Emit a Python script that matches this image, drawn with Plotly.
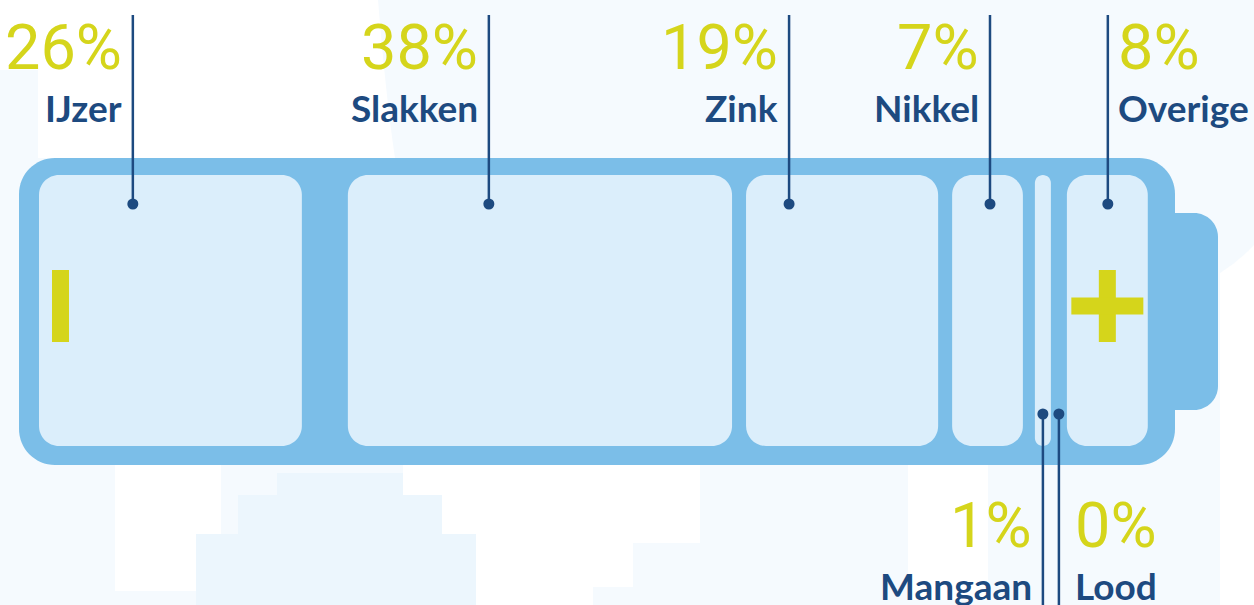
import plotly.graph_objects as go

# ---------------- data ----------------
materials = ["IJzer", "Slakken", "Zink", "Nikkel", "Mangaan", "Lood", "Overige"]
shares = [26, 38, 19, 7, 1, 0, 8]
share_labels = [f"{v}%" for v in shares]
label_side = ["top", "top", "top", "top", "bottom", "bottom", "top"]
cell_group = [0, 1, 2, 3, 4, 4, 5]          # Mangaan & Lood share the thin cell

# ---------------- layout / style constants ----------------
W, H = 1254, 605
PX_PER_PCT = 10.11
CELL_X0 = 39
CELL_GAPS = [46, 14, 14, 12, 16]
THIN_MIN = 16
CELL_Y0, CELL_Y1 = 175, 446
LEADER_FRAC = [0.357, 0.367, 0.224, 0.535, 0.5, 1.5, 0.506]
DOT_Y_TOP, DOT_Y_BOT = 204, 414
LINE_TOP, LINE_BOT = 15, 605
SIGN_CY = 306

C_BG = "#f5fafe"
C_WHITE = "#ffffff"
C_BLOCK = "#ecf6fd"
C_BODY = "#7bbee8"
C_CELL = "#dbeefb"
C_DARK = "#1d4a80"
C_YEL = "#d5d51b"

PCT_FONT = dict(family="Roboto, Liberation Sans Narrow, sans-serif", size=63, color=C_YEL, weight=400)
LBL_FONT = dict(family="Lato, Open Sans, sans-serif", size=37, color=C_DARK, weight="bold")


def rrect(x0, y0, x1, y1, r):
    k = 0.5523 * r
    return (f"M{x0+r},{y0} L{x1-r},{y0} C{x1-r+k},{y0} {x1},{y0+r-k} {x1},{y0+r} "
            f"L{x1},{y1-r} C{x1},{y1-r+k} {x1-r+k},{y1} {x1-r},{y1} "
            f"L{x0+r},{y1} C{x0+r-k},{y1} {x0},{y1-r+k} {x0},{y1-r} "
            f"L{x0},{y0+r} C{x0},{y0+r-k} {x0+r-k},{y0} {x0+r},{y0} Z")


shapes = []


def add_path(path, color, layer="below"):
    shapes.append(dict(type="path", path=path, xref="x", yref="y",
                       fillcolor=color, line=dict(width=0), layer=layer))


# background decoration
add_path("M0,0 L378,0 C383,60 388,110 395,158 L38,158 L38,70 L0,70 Z", C_WHITE)
add_path("M115,465 L221,465 L221,591 L115,591 Z", C_WHITE)
add_path("M403,465 L700,465 L700,543 L633,543 L633,587 L593,587 L593,605 "
         "L476,605 L476,534 L442,534 L442,495 L403,495 Z", C_WHITE)
add_path("M196,605 L196,534 L238,534 L238,495 L277,495 L277,473 L403,473 L403,495 "
         "L442,495 L442,534 L476,534 L476,605 Z", C_BLOCK)
add_path("M908,465 L988,465 L988,600 L908,600 Z", C_WHITE)
add_path("M1220,273 Q1238,262 1254,245 L1254,605 L1220,605 Z", C_WHITE)

# battery body + tab
add_path(rrect(1140, 213, 1218, 410, 24), C_BODY)
add_path(rrect(19, 158, 1175, 465, 36), C_BODY)

# cells, widths derived from shares
n_groups = max(cell_group) + 1
group_share = [sum(s for s, g in zip(shares, cell_group) if g == i) for i in range(n_groups)]
cell_x = []
x = CELL_X0
for i, gs in enumerate(group_share):
    w = max(gs * PX_PER_PCT, THIN_MIN)
    cell_x.append((x, x + w))
    if i < len(CELL_GAPS):
        x = x + w + CELL_GAPS[i]
for (x0, x1) in cell_x:
    r = 20 if (x1 - x0) > 30 else (x1 - x0) / 2
    add_path(rrect(x0, CELL_Y0, x1, CELL_Y1, r), C_CELL)

# minus / plus signs
mx0 = cell_x[0][0] + 13
add_path(f"M{mx0},{SIGN_CY-36} L{mx0+17},{SIGN_CY-36} L{mx0+17},{SIGN_CY+36} L{mx0},{SIGN_CY+36} Z", C_YEL)
pcx = (cell_x[-1][0] + cell_x[-1][1]) / 2
add_path(f"M{pcx-8.5},{SIGN_CY-36} L{pcx+8.5},{SIGN_CY-36} L{pcx+8.5},{SIGN_CY+36} L{pcx-8.5},{SIGN_CY+36} Z", C_YEL)
add_path(f"M{pcx-36},{SIGN_CY-8.5} L{pcx+36},{SIGN_CY-8.5} L{pcx+36},{SIGN_CY+8.5} L{pcx-36},{SIGN_CY+8.5} Z", C_YEL)

# leaders
lead_x, dot_x, dot_y = [], [], []
line_x, line_y = [], []
for i, m in enumerate(materials):
    x0, x1 = cell_x[cell_group[i]]
    lx = x0 + LEADER_FRAC[i] * (x1 - x0)
    lead_x.append(lx)
    if label_side[i] == "top":
        dy = DOT_Y_TOP
        line_x += [lx, lx, None]
        line_y += [LINE_TOP, dy, None]
    else:
        dy = DOT_Y_BOT
        line_x += [lx, lx, None]
        line_y += [dy, LINE_BOT, None]
    dot_x.append(lx)
    dot_y.append(dy)

fig = go.Figure()
fig.add_trace(go.Scatter(x=line_x, y=line_y, mode="lines",
                         line=dict(color=C_DARK, width=2.5), hoverinfo="skip", showlegend=False))
fig.add_trace(go.Scatter(x=dot_x, y=dot_y, mode="markers", text=materials,
                         marker=dict(color=C_DARK, size=11), hovertemplate="%{text}<extra></extra>",
                         showlegend=False))

annotations = []
for i, m in enumerate(materials):
    lx = lead_x[i]
    if label_side[i] == "top":
        y_pct, y_lbl = 47, 107
    else:
        y_pct, y_lbl = 525, 585
    right_side = (m in ("Overige", "Lood"))
    if right_side:
        ax = lx + (8 if m == "Overige" else 14)
        anchor = "left"
    else:
        ax = lx - 9
        anchor = "right"
    annotations.append(dict(x=ax, y=y_pct, text=share_labels[i], showarrow=False,
                            xanchor=anchor, yanchor="middle", font=PCT_FONT, xref="x", yref="y"))
    annotations.append(dict(x=ax, y=y_lbl, text=m, showarrow=False,
                            xanchor=anchor, yanchor="middle", font=LBL_FONT, xref="x", yref="y"))

fig.update_layout(
    width=W, height=H, margin=dict(l=0, r=0, t=0, b=0),
    paper_bgcolor=C_BG, plot_bgcolor=C_BG,
    xaxis=dict(range=[0, W], visible=False, fixedrange=True),
    yaxis=dict(range=[H, 0], visible=False, fixedrange=True),
    shapes=shapes, annotations=annotations, showlegend=False,
)
fig.write_html("out.html", config={"displayModeBar": False},
               post_script="document.body.style.margin='0';document.body.style.overflow='hidden';")
